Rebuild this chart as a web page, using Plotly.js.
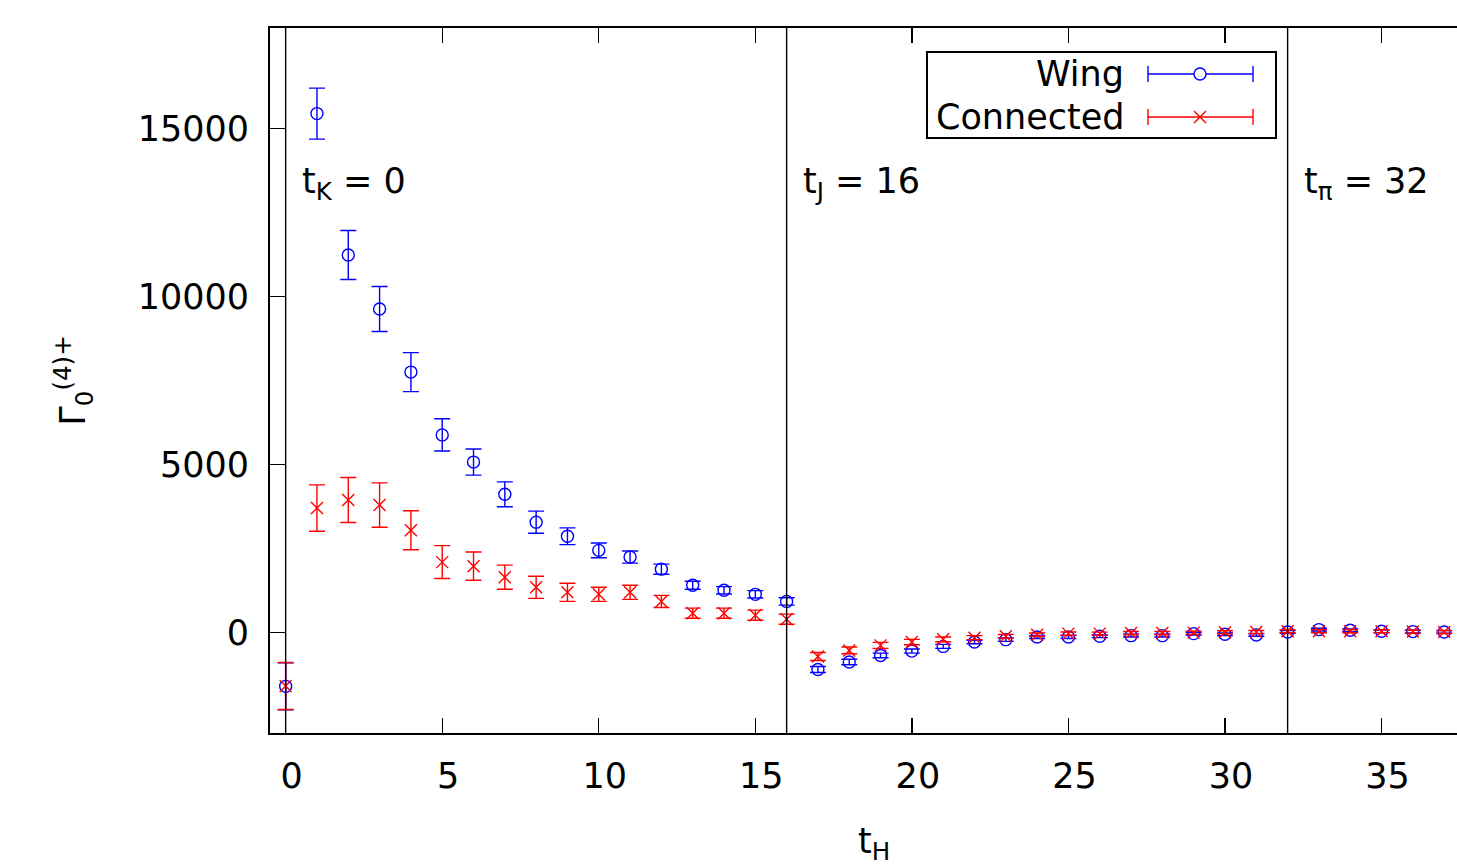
<!DOCTYPE html>
<html>
<head>
<meta charset="utf-8">
<script src="https://cdn.plot.ly/plotly-3.0.1.min.js"></script>
<style>html,body{margin:0;padding:0;background:#fff;}</style>
</head>
<body>
<div id="chart" style="width:1457px;height:866px;"></div>
<script>
// ---- data ----
const tH = [0,1,2,3,4,5,6,7,8,9,10,11,12,13,14,15,16,17,18,19,20,21,22,23,24,25,26,27,28,29,30,31,32,33,34,35,36,37];
const wingVal = [-1610,15450,11240,9630,7750,5880,5070,4110,3280,2860,2440,2240,1880,1400,1250,1130,920,
  -1110,-885,-690,-560,-420,-290,-220,-140,-140,-120,-100,-100,-40,-60,-80,10,80,60,30,20,10];
const wingErr = [700,760,730,670,580,480,390,370,330,250,220,180,150,120,110,110,110,
  90,80,70,60,60,50,50,45,45,40,40,40,40,40,40,40,40,40,40,40,40];
const connVal = [-1600,3700,3940,3790,3040,2090,1970,1640,1340,1190,1130,1190,920,570,570,510,390,
  -720,-540,-390,-290,-210,-160,-120,-70,-40,-40,-20,-20,-10,0,10,30,30,30,30,20,10];
const connErr = [700,690,670,660,580,490,420,360,330,270,210,210,180,150,150,150,150,
  120,100,90,80,70,60,55,50,50,45,45,45,45,45,45,45,45,45,45,45,45];
const seriesNames = ['Wing', 'Connected'];
const xTicks = [0,5,10,15,20,25,30,35];
const yTicks = [0, 5000, 10000, 15000];
const yTickText = ['0', '5000', '10000', '15000'];
const sourceTimes = [0, 16, 32];
const sourceLabels = ['t<sub>K</sub> = 0', 't<sub>J</sub> = 16', 't<sub>π</sub> = 32'];
const xTitle = 't<sub>H</sub>';
const yTitle = 'Γ<sub>0</sub><sup>(4)+</sup>';

// ---- layout helpers (pixel -> paper) ----
const W = 1457, H = 866;
const L = 270, R = 0, T = 28, B = 133;
const pw = W - L - R, ph = H - T - B;
const px = x => (x - L) / pw;
const py = y => (H - B - y) / ph;

const FONT = 'DejaVu Sans, Liberation Sans, sans-serif';
const FS = 35;
const blue = '#0000ff', red = '#ff0000';

const traces = [
  {
    x: tH, y: wingVal, name: seriesNames[0], type: 'scatter', mode: 'markers',
    marker: {symbol: 'circle-open', size: 12, color: blue, line: {width: 1.4, color: blue}},
    error_y: {type: 'data', array: wingErr, visible: true, color: blue, thickness: 1.4, width: 8},
    showlegend: false
  },
  {
    x: tH, y: connVal, name: seriesNames[1], type: 'scatter', mode: 'markers',
    marker: {symbol: 'x-thin-open', size: 12, color: red, line: {width: 1.4, color: red}},
    error_y: {type: 'data', array: connErr, visible: true, color: red, thickness: 1.4, width: 8},
    showlegend: false
  }
];

const shapes = [];
const annotations = [];

sourceTimes.forEach((t, i) => {
  shapes.push({type: 'line', xref: 'x', yref: 'paper', x0: t, x1: t, y0: 0, y1: 1,
    line: {color: 'black', width: 1.4}});
  annotations.push({xref: 'x', yref: 'paper', x: t, y: py(183), xanchor: 'left', yanchor: 'middle',
    xshift: 14, text: sourceLabels[i], showarrow: false, font: {family: FONT, size: FS, color: 'black'}});
});

// x-axis title (placed as gnuplot does, slightly right of the visible plot centre)
annotations.push({xref: 'paper', yref: 'paper', x: px(874), y: py(843), xanchor: 'center', yanchor: 'middle',
  text: xTitle, showarrow: false, font: {family: FONT, size: FS, color: 'black'}});

// legend box
shapes.push({type: 'rect', xref: 'paper', yref: 'paper', x0: px(927), x1: px(1276), y0: py(138), y1: py(52),
  line: {color: 'black', width: 2}, fillcolor: 'rgba(0,0,0,0)'});
const legRows = [{y: 74, color: blue, name: seriesNames[0], sym: 'o'}, {y: 117, color: red, name: seriesNames[1], sym: 'x'}];
legRows.forEach(r => {
  const yy = py(r.y);
  shapes.push({type: 'line', xref: 'paper', yref: 'paper', x0: px(1148), x1: px(1253), y0: yy, y1: yy, line: {color: r.color, width: 1.4}});
  [1148, 1253].forEach(xc => {
    shapes.push({type: 'line', xref: 'paper', yref: 'paper', xsizemode: 'scaled', ysizemode: 'pixel', yanchor: yy,
      x0: px(xc), x1: px(xc), y0: -8, y1: 8, line: {color: r.color, width: 1.4}});
  });
  if (r.sym === 'o') {
    shapes.push({type: 'circle', xref: 'paper', yref: 'paper', xsizemode: 'pixel', ysizemode: 'pixel',
      xanchor: px(1200), yanchor: yy, x0: -6, x1: 6, y0: -6, y1: 6, line: {color: r.color, width: 1.4}, fillcolor: 'white'});
  } else {
    shapes.push({type: 'line', xref: 'paper', yref: 'paper', xsizemode: 'pixel', ysizemode: 'pixel',
      xanchor: px(1200), yanchor: yy, x0: -6, x1: 6, y0: -6, y1: 6, line: {color: r.color, width: 1.4}});
    shapes.push({type: 'line', xref: 'paper', yref: 'paper', xsizemode: 'pixel', ysizemode: 'pixel',
      xanchor: px(1200), yanchor: yy, x0: -6, x1: 6, y0: 6, y1: -6, line: {color: r.color, width: 1.4}});
  }
  annotations.push({xref: 'paper', yref: 'paper', x: px(1126), y: yy, xanchor: 'right', yanchor: 'middle',
    text: r.name, showarrow: false, font: {family: FONT, size: FS, color: 'black'}});
});

const layout = {
  width: W, height: H,
  margin: {l: L, r: R, t: T, b: B},
  paper_bgcolor: 'white', plot_bgcolor: 'white',
  font: {family: FONT, size: FS, color: 'black'},
  showlegend: false,
  xaxis: {
    range: [-0.5, 37.41], tickvals: xTicks,
    ticks: 'inside', ticklen: 15, tickwidth: 1.4, tickcolor: 'black',
    showline: true, linecolor: 'black', linewidth: 2, mirror: 'ticks',
    showgrid: false, zeroline: false,
    tickfont: {family: FONT, size: FS}, ticklabelstandoff: 11, ticklabelshift: 6
  },
  yaxis: {
    range: [-3000, 18000], tickvals: yTicks, ticktext: yTickText,
    ticks: 'inside', ticklen: 15, tickwidth: 1.4, tickcolor: 'black',
    showline: true, linecolor: 'black', linewidth: 2, mirror: false,
    showgrid: false, zeroline: false,
    tickfont: {family: FONT, size: FS}, ticklabelstandoff: 12,
    title: {text: yTitle, font: {family: FONT, size: FS}, standoff: 41}
  },
  shapes: shapes,
  annotations: annotations
};

Plotly.newPlot('chart', traces, layout, {displayModeBar: false, staticPlot: true});
</script>
</body>
</html>
